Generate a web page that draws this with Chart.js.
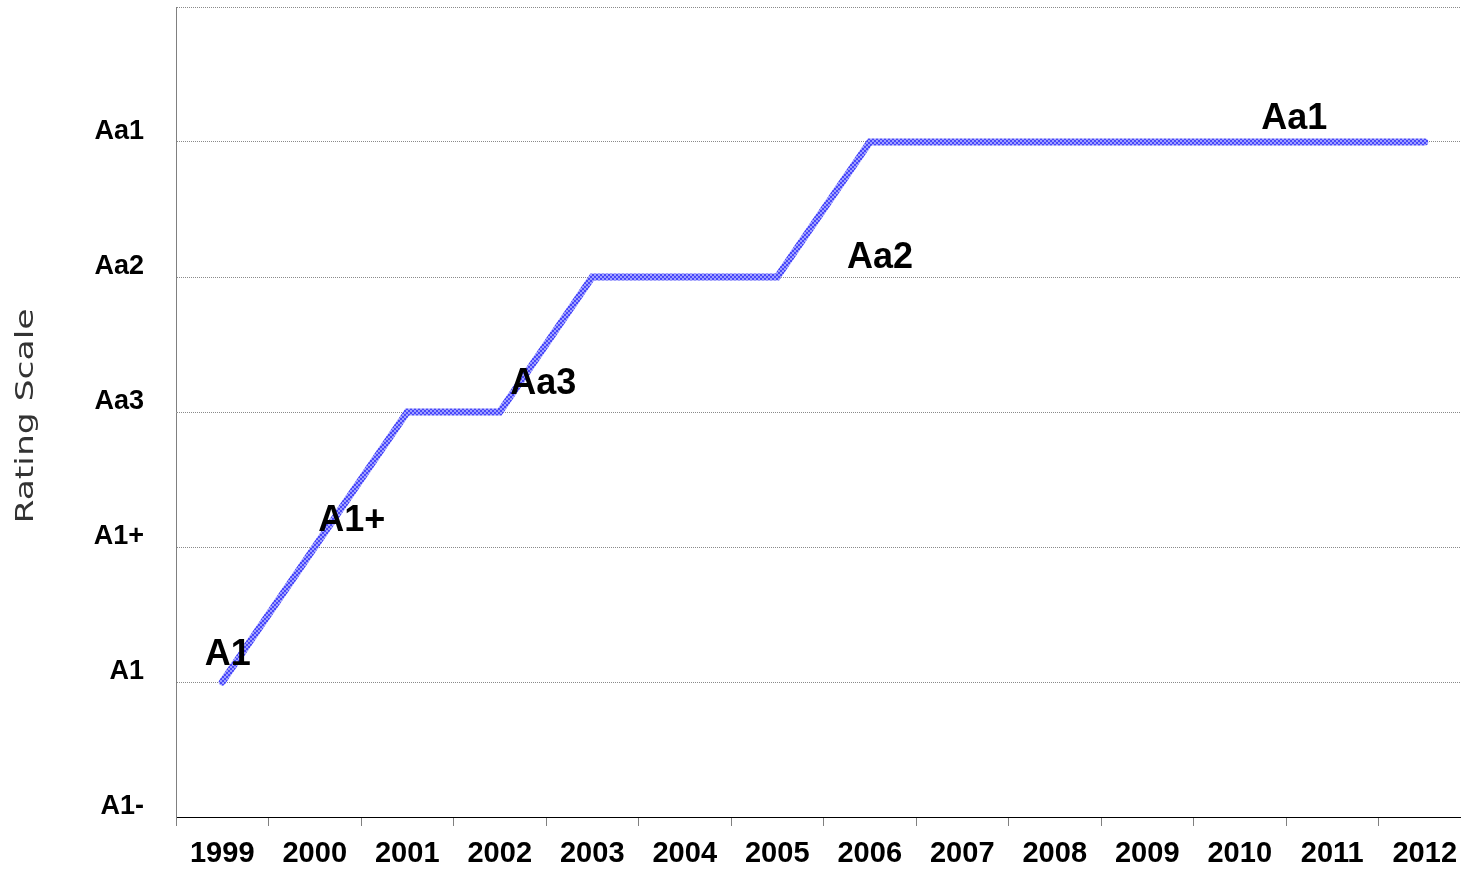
<!DOCTYPE html>
<html>
<head>
<meta charset="utf-8">
<script src="https://cdn.jsdelivr.net/npm/chart.js@4"></script>
<style>
  html, body { margin: 0; padding: 0; background: #fff; overflow: hidden; }
  #wrap { width: 1461px; height: 871px; overflow: hidden; }
</style>
</head>
<body>
<div id="wrap"><canvas id="c" width="1471" height="871"></canvas></div>
<script>
// ---- data ----
const years = ['1999','2000','2001','2002','2003','2004','2005','2006','2007','2008','2009','2010','2011','2012'];
const ratingLevels = ['A1-','A1','A1+','Aa3','Aa2','Aa1',''];
const ratingValues = [1, 2, 3, 3, 4, 4, 4, 5, 5, 5, 5, 5, 5, 5];
const noteTexts = ['A1','A1+','Aa3','Aa2','Aa1'];
const noteX = [0.06, 1.40, 3.47, 7.11, 11.59];
const noteY = [1.20, 2.19, 3.21, 4.14, 5.17];
const axisTitle = 'Rating Scale';

// hatched line pattern
function makePattern() {
  const p = document.createElement('canvas');
  p.width = 4; p.height = 4;
  const g = p.getContext('2d');
  g.fillStyle = 'rgb(72,72,250)'; g.fillRect(0,0,4,4);
  g.fillStyle = 'rgb(160,160,255)'; g.fillRect(0,0,2,2); g.fillRect(2,2,2,2);
  return g.createPattern(p, 'repeat');
}

const notesPlugin = {
  id: 'notes',
  afterDatasetsDraw(chart) {
    const {ctx, scales: {x, y}} = chart;
    ctx.save();
    ctx.font = 'bold 36px "Liberation Sans", Arial, sans-serif';
    ctx.fillStyle = '#000';
    ctx.textAlign = 'center';
    ctx.textBaseline = 'middle';
    noteTexts.forEach((t, i) => {
      ctx.fillText(t, x.getPixelForValue(noteX[i]), y.getPixelForValue(noteY[i]));
    });
    ctx.restore();
  }
};

const titlePlugin = {
  id: 'stretchedTitle',
  afterDraw(chart) {
    const {ctx, chartArea} = chart;
    ctx.save();
    ctx.translate(33, (chartArea.top + chartArea.bottom) / 2 + 4);
    ctx.rotate(-Math.PI / 2);
    ctx.scale(1.38, 1);
    ctx.font = '25px "DejaVu Sans", sans-serif';
    ctx.fillStyle = '#333333';
    ctx.textAlign = 'center';
    ctx.textBaseline = 'alphabetic';
    ctx.fillText(axisTitle, 0, 0);
    ctx.restore();
  }
};

new Chart(document.getElementById('c'), {
  type: 'line',
  data: {
    labels: years,
    datasets: [{
      data: ratingValues,
      borderColor: makePattern(),
      borderWidth: 7,
      borderCapStyle: 'round',
      borderJoinStyle: 'miter',
      tension: 0,
      pointRadius: 0,
      fill: false
    }]
  },
  options: {
    responsive: false,
    animation: false,
    devicePixelRatio: 1,
    layout: { padding: { top: 7, right: 0, left: 0, bottom: 0 } },
    plugins: { legend: { display: false }, tooltip: { enabled: false } },
    scales: {
      x: {
        type: 'category',
        offset: true,
        grid: { display: true, drawOnChartArea: false, drawTicks: true, tickLength: 9, color: '#808080', offset: true },
        border: { display: true, color: '#000', width: 1 },
        ticks: {
          color: '#000',
          font: { family: '"Liberation Sans", Arial, sans-serif', size: 29, weight: 'bold' },
          padding: 11,
          maxRotation: 0,
          autoSkip: false
        },
        afterFit(s) { s.height = 54; s.paddingLeft = 0; s.paddingRight = 0; }
      },
      y: {
        min: 0, max: 6,
        ticks: {
          stepSize: 1,
          color: '#000',
          padding: 32,
          labelOffset: -10,
          font: { family: '"Liberation Sans", Arial, sans-serif', size: 27, weight: 'bold' },
          callback: (v) => ratingLevels[v]
        },
        grid: { color: '#8a8a8a', lineWidth: 1, drawTicks: false },
        border: { display: true, color: '#808080', width: 1, dash: [1, 1] },
        title: { display: false },
        afterFit(s) { s.width = 176; s.paddingTop = 0; s.paddingBottom = 0; }
      }
    }
  },
  plugins: [notesPlugin, titlePlugin]
});
</script>
</body>
</html>
